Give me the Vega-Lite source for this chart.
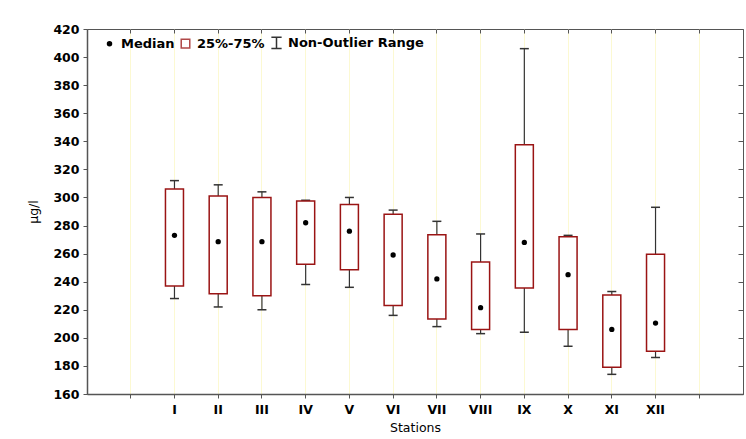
{
  "$schema": "https://vega.github.io/schema/vega-lite/v6.json",
  "width": 656,
  "height": 365,
  "autosize": {"type": "none"},
  "padding": {"left": 87, "top": 29, "right": 3, "bottom": 45},
  "background": "white",
  "config": {
    "font": "DejaVu Sans",
    "view": {"stroke": "#555", "strokeWidth": 1},
    "axis": {"labelColor": "black", "titleColor": "black", "tickColor": "#555", "domainColor": "#555"}
  },
  "datasets": {
    "stations": [
      {"station": "I", "min": 228, "q1": 237, "median": 273, "q3": 306, "max": 312},
      {"station": "II", "min": 222, "q1": 231.5, "median": 268.5, "q3": 301, "max": 309},
      {"station": "III", "min": 220, "q1": 230, "median": 268.5, "q3": 300, "max": 304},
      {"station": "IV", "min": 238, "q1": 252.5, "median": 282, "q3": 297.5, "max": 298},
      {"station": "V", "min": 236, "q1": 248.5, "median": 276, "q3": 295, "max": 300},
      {"station": "VI", "min": 216, "q1": 223, "median": 259, "q3": 288, "max": 291},
      {"station": "VII", "min": 208, "q1": 213.5, "median": 242, "q3": 273.5, "max": 283},
      {"station": "VIII", "min": 203, "q1": 206, "median": 221.5, "q3": 254, "max": 274},
      {"station": "IX", "min": 204, "q1": 235.5, "median": 268, "q3": 337.5, "max": 406},
      {"station": "X", "min": 194, "q1": 206, "median": 245, "q3": 272, "max": 273},
      {"station": "XI", "min": 174, "q1": 179, "median": 206, "q3": 230.5, "max": 233},
      {"station": "XII", "min": 186, "q1": 190.5, "median": 210.5, "q3": 259.5, "max": 293}
    ],
    "legendItems": [
      {"item": "Median"},
      {"item": "25%-75%"},
      {"item": "Non-Outlier Range"}
    ]
  },
  "resolve": {"axis": {"x": "independent", "y": "independent"}},
  "layer": [
    {
      "data": {"name": "stations"},
      "mark": {"type": "rule", "color": "#333", "strokeWidth": 1.2},
      "encoding": {
        "x": {
          "field": "station", "type": "ordinal",
          "scale": {"type": "band", "domain": ["a", "I", "II", "III", "IV", "V", "VI", "VII", "VIII", "IX", "X", "XI", "XII", "b"], "paddingInner": 0.588, "paddingOuter": 0.794},
          "axis": {
            "orient": "bottom", "bandPosition": 0.5,
            "labelExpr": "datum.value == 'a' || datum.value == 'b' ? '' : datum.label",
            "labelFont": "DejaVu Sans", "labelFontWeight": "bold", "labelFontSize": 12.5, "labelAngle": 0, "labelPadding": 5,
            "tickSize": 4, "domainWidth": 1.5,
            "grid": true, "gridColor": "#fcf9d2", "gridWidth": 1,
            "title": "Stations", "titleFont": "DejaVu Sans", "titleFontWeight": "normal", "titleFontSize": 12.5, "titlePadding": 6
          }
        },
        "y": {
          "field": "min", "type": "quantitative",
          "scale": {"domain": [160, 420], "nice": false, "zero": false},
          "axis": {
            "orient": "left", "values": [160, 180, 200, 220, 240, 260, 280, 300, 320, 340, 360, 380, 400, 420],
            "labelFont": "DejaVu Sans", "labelFontWeight": "bold", "labelFontSize": 12.5, "labelPadding": 4,
            "tickSize": 4, "domainWidth": 1.5, "grid": false,
            "title": "μg/l", "titleFont": "DejaVu Sans", "titleFontWeight": "normal", "titleFontSize": 12.5, "titlePadding": 12
          }
        },
        "y2": {"field": "max"}
      }
    },
    {
      "data": {"name": "stations"},
      "mark": {"type": "tick", "color": "#333", "thickness": 1.5, "size": 9, "orient": "horizontal", "opacity": 1},
      "encoding": {
        "x": {"field": "station", "type": "ordinal", "axis": {"orient": "top", "bandPosition": 0.5, "labels": false, "tickSize": -4, "domain": false, "grid": false, "title": null}},
        "y": {"field": "min", "type": "quantitative", "axis": {"orient": "right", "values": [160, 180, 200, 220, 240, 260, 280, 300, 320, 340, 360, 380, 400, 420], "labels": false, "tickSize": -5, "domain": false, "grid": false, "title": null}}
      }
    },
    {
      "data": {"name": "stations"},
      "mark": {"type": "tick", "color": "#333", "thickness": 1.5, "size": 9, "orient": "horizontal", "opacity": 1},
      "encoding": {
        "x": {"field": "station", "type": "ordinal", "axis": null},
        "y": {"field": "max", "type": "quantitative", "axis": null}
      }
    },
    {
      "data": {"name": "stations"},
      "mark": {"type": "bar", "fill": "white", "stroke": "#9a1414", "strokeWidth": 1.5},
      "encoding": {
        "x": {"field": "station", "type": "ordinal", "axis": null},
        "y": {"field": "q1", "type": "quantitative", "axis": null},
        "y2": {"field": "q3"}
      }
    },
    {
      "data": {"name": "stations"},
      "mark": {"type": "point", "filled": true, "color": "black", "size": 28, "opacity": 1},
      "encoding": {
        "x": {"field": "station", "type": "ordinal", "axis": null},
        "y": {"field": "median", "type": "quantitative", "axis": null}
      }
    },
    {
      "data": {"name": "legendItems"},
      "transform": [{"filter": "false"}],
      "mark": {"type": "point", "opacity": 1},
      "encoding": {
        "shape": {
          "field": "item", "type": "nominal",
          "scale": {"domain": ["Median", "25%-75%", "Non-Outlier Range"], "range": ["circle", "square", "M-0.9,-1H0.9M0,-1V1M-0.9,1H0.9"]},
          "legend": {
            "orient": "none", "legendX": 16, "legendY": 7, "direction": "horizontal", "title": null, "padding": 0,
            "labelFontSize": 13, "labelFontWeight": "bold", "labelColor": "black", "labelFont": "DejaVu Sans",
            "labelOffset": 5, "columnPadding": 3, "symbolStrokeWidth": 1.5, "symbolOpacity": 1
          }
        },
        "fill": {"field": "item", "type": "nominal", "scale": {"domain": ["Median", "25%-75%", "Non-Outlier Range"], "range": ["black", "transparent", "transparent"]}},
        "stroke": {"field": "item", "type": "nominal", "scale": {"domain": ["Median", "25%-75%", "Non-Outlier Range"], "range": ["black", "#b04848", "#333"]}},
        "size": {"field": "item", "type": "nominal", "scale": {"domain": ["Median", "25%-75%", "Non-Outlier Range"], "range": [16, 130, 100]}}
      }
    }
  ]
}
